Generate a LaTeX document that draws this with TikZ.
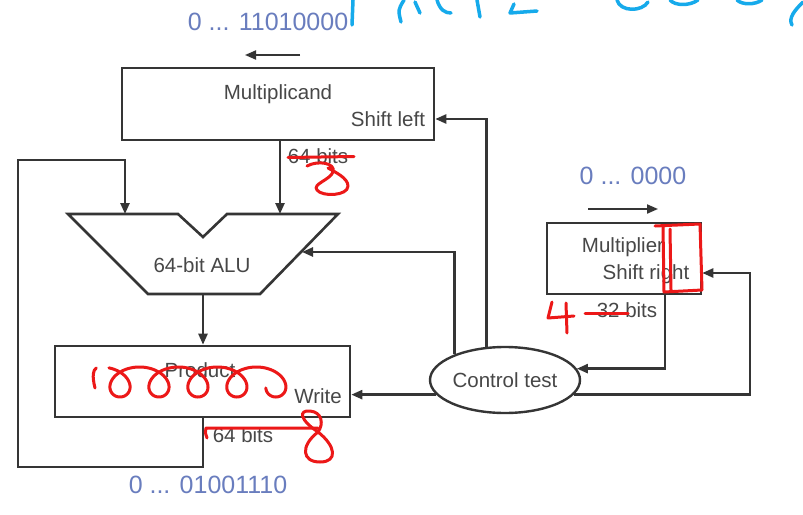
\documentclass[tikz,border=0pt]{standalone}
\usepackage{fontspec}
\setmainfont{Liberation Sans}
\usetikzlibrary{arrows.meta,shapes.geometric}
\definecolor{ln}{HTML}{353535}
\definecolor{tx}{HTML}{474747}
\definecolor{bl}{RGB}{105,125,190}
\definecolor{hr}{RGB}{236,24,24}
\definecolor{hb}{RGB}{22,170,235}
\begin{document}
\begin{tikzpicture}[x=1pt,y=-1pt,
  wire/.style={draw=ln,line width=2.4pt},
  arr/.style={wire,-{Triangle[length=11pt,width=9pt]}},
  box/.style={draw=ln,line width=2.6pt,fill=white,inner sep=0pt,rectangle},
  lbl/.style={text=tx,font=\fontsize{20.5}{22}\selectfont,inner sep=0pt,text height=14.7pt,text depth=0pt},
  num/.style={text=bl,font=\fontsize{25}{27}\selectfont,inner sep=0pt,text height=17.9pt,text depth=0pt},
  redink/.style={draw=hr,line width=3pt,line cap=round,line join=round},
  blueink/.style={draw=hb,line width=3.5pt,line cap=round,line join=round}]
\useasboundingbox[fill=white] (0,0) rectangle (803,514);

% boxes
\node[box,minimum width=312pt,minimum height=72pt] (mcand) at (278,104) {};
\node[box,minimum width=295pt,minimum height=71pt] (prod) at (202.5,381.5) {};
\node[box,minimum width=154pt,minimum height=71pt] (mplier) at (624,258.5) {};
\node[draw=ln,line width=2.4pt,fill=white,ellipse,minimum width=150pt,minimum height=66pt,lbl] (ctrl) at (505,380) {Control test};

% ALU
\draw[draw=ln,line width=2.6pt,line join=miter,fill=white] (68,214) -- (178,214) -- (203,237) -- (227,214) -- (338,214) -- (260,294) -- (148,294) -- cycle;
\coordinate (aluL) at (125,214);
\coordinate (aluR) at (280,214);
\coordinate (aluB) at (203,294);
\coordinate (aluS) at (302,252);

% labels
\node[lbl] (t1) at (278,92.5) {Multiplicand};
\node[lbl] (t2) at (388,119) {Shift left};
\node[lbl] (t3) at (202,265) {64-bit ALU};
\node[lbl] (t4) at (200,370.5) {Product};
\node[lbl] (t5) at (318,396.5) {Write};
\node[lbl] (t6) at (623,245.5) {Multiplier};
\node[lbl] (t7) at (646,272.5) {Shift right};
\node[lbl] (b1) at (318,156.5) {64 bits};
\node[lbl] (b2) at (627,310) {32 bits};
\node[lbl] (b3) at (243,435.5) {64 bits};
\node[num] (n1) at (268,22) {0 ... 11010000};
\node[num] (n2) at (633,176) {0 ... 0000};
\node[num] (n3) at (208,485) {0 ... 01001110};

% connectors
\coordinate (lc) at (18,467);
\coordinate (le) at (125,160);
\coordinate (mx) at (665,0);
\coordinate (rr) at (750,273);
\draw[arr] (mcand.south -| aluR) -- (aluR);
\draw[arr] (aluB) -- (prod.north -| aluB);
\draw[arr] (prod.south -| aluB) |- (lc) |- (le) -- (aluL);
\draw[arr] (ctrl.119) |- ([yshift=-15pt]mcand.east);
\draw[arr] (ctrl.153) |- (aluS);
\draw[arr] (ctrl.192) -- (prod.east |- ctrl.192);
\draw[arr] (ctrl.348) -| (rr) -- (mplier.east |- rr);
\draw[arr] (mplier.south -| mx) |- (ctrl.9);

% small direction arrows
\coordinate (ta1) at (300,55);
\coordinate (ta2) at (245,55);
\coordinate (tb1) at (588,209);
\coordinate (tb2) at (658,209);
\draw[arr,line width=2pt] (ta1) -- (ta2);
\draw[arr,line width=2pt] (tb1) -- (tb2);

% red handwriting
\draw[redink] (288,157.5) -- (354,156.5);
\draw[redink] (307,166) .. controls (318,160) and (336,163) .. (333,172)
  .. controls (330,180) and (312,184) .. (317,190)
  .. controls (322,197) and (348,196) .. (348,186)
  .. controls (348,178) and (335,172) .. (328,168);
\draw[redink] (655,226) -- (700,224) -- (702,290) -- (664,292) -- (663,226);
\draw[redink] (670,229) -- (671,290);
\draw[redink] (552,302) -- (548,318) -- (574,316);
\draw[redink] (566,303) -- (567,333);
\draw[redink] (585,313) -- (628,313);
\draw[redink] (95,388) .. controls (92,376) and (93,370) .. (96.3,368);
\draw[redink] plot[domain=-2.8:26.3,samples=400,variable=\t,smooth] ({120+6.2*\t-18.8*sin(\t r)},{382+15*cos(\t r)});
\draw[redink] (207,438) .. controls (205,432) .. (206,428) -- (318,428);
\draw[redink] (318,432) .. controls (300,420) and (298,410) .. (310,411)
  .. controls (322,412) and (324,424) .. (318,432)
  .. controls (300,446) and (302,462) .. (320,462)
  .. controls (338,462) and (336,446) .. (318,432);

% blue handwriting
\draw[blueink] (353,0) -- (352,25);
\draw[blueink] (404,0) .. controls (398,10) .. (401,22);
\draw[blueink] (415,2) -- (420,13);
\draw[blueink] (437,0) .. controls (440,10) and (445,13) .. (451,13);
\draw[blueink] (477,0) -- (480,17);
\draw[blueink] (514,4) -- (510,13) -- (537,11);
\draw[blueink] (617,0) .. controls (620,12) and (642,12) .. (648,2);
\draw[blueink] (670,0) .. controls (675,6) and (690,6) .. (698,0);
\draw[blueink] (737,0) .. controls (742,5) and (755,5) .. (762,0);
\draw[blueink] (803,2) .. controls (795,10) and (788,18) .. (792,25);
\end{tikzpicture}
\end{document}
